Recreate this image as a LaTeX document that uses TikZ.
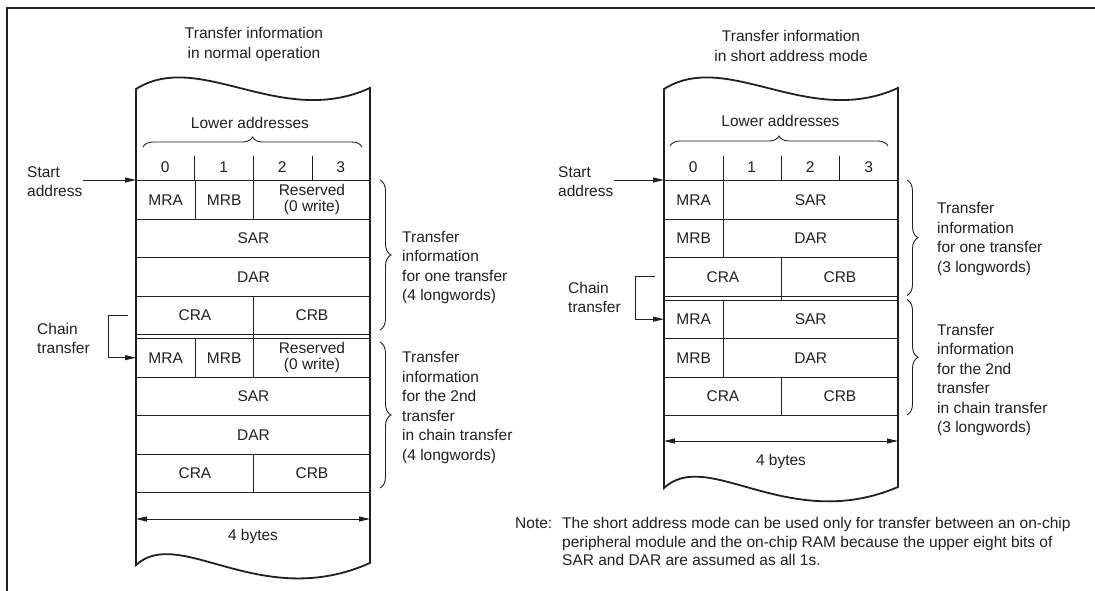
\documentclass[tikz,border=0pt]{standalone}
\usepackage{fontspec}
\setmainfont{Liberation Sans}
\usepackage{tikz}
\usetikzlibrary{arrows.meta,decorations.pathreplacing}
\definecolor{ink}{HTML}{231F20}
\tikzset{
  field/.style={draw=ink, line width=0.9pt, anchor=north west, inner sep=0pt, align=center, text=ink, minimum height=38.5pt},
  quarter/.style={field, minimum width=58.5pt},
  half/.style={field, minimum width=117pt},
  threeq/.style={field, minimum width=175.5pt},
  full/.style={field, minimum width=234pt},
  twoline/.style={font=\fontsize{15.5}{15.5}\selectfont},
  txt/.style={inner sep=0pt, align=left, text=ink},
  rule/.style={draw=ink, line width=0.9pt},
  ptr/.style={-{Triangle[length=11pt,width=5pt]}, line width=0.9pt, draw=ink},
  widtharrow/.style={{Triangle[length=11pt,width=5pt]}-{Triangle[length=11pt,width=5pt]}, line width=0.9pt, draw=ink},
  paper/.style={draw=ink, line width=1.8pt, line join=miter},
  curly/.style={draw=ink, line width=0.9pt, decorate, decoration={brace, amplitude=#1}},
  curly/.default=11pt
}

\begin{document}
\begin{tikzpicture}[x=1pt, y=-1pt, font=\fontsize{15.5}{19.5}\selectfont]
  \useasboundingbox (0,0) rectangle (1095,591);
  \draw[draw=ink, line width=2.5pt] (1096,8) -- (7,8) -- (7,592);

  % normal operation
  \node[txt, align=center] (titleA) at (254,44.5) {Transfer information\\in normal operation};
  \node[txt] (lowA) at (250,123) {Lower addresses};
  \draw[curly=10pt] (143,147) -- (362,147);
  \node[txt] (dA0) at (165.25,167.5) {0};
  \node[txt] (dA1) at (223.75,167.5) {1};
  \node[txt] (dA2) at (282.25,167.5) {2};
  \node[txt] (dA3) at (340.75,167.5) {3};

  \node[quarter] (mraA) at (136,180) {MRA};
  \node[quarter] (mrbA) at (194.5,180) {MRB};
  \node[half, twoline] (resA) at (253,180) {Reserved\\(0 write)};
  \node[full] (sarA) at (136,218.5) {SAR};
  \node[full] (darA) at (136,257) {DAR};
  \node[half] (craA) at (136,295.5) {CRA};
  \node[half] (crbA) at (253,295.5) {CRB};
  \node[quarter] (mraB) at (136,338) {MRA};
  \node[quarter] (mrbB) at (194.5,338) {MRB};
  \node[half, twoline] (resB) at (253,338) {Reserved\\(0 write)};
  \node[full] (sarB) at (136,376.5) {SAR};
  \node[full] (darB) at (136,415) {DAR};
  \node[half] (craB) at (136,453.5) {CRA};
  \node[half] (crbB) at (253,453.5) {CRB};

  \draw[rule] (mrbA.north west) -- ++(0,-24);
  \draw[rule] (resA.north west) -- ++(0,-24);
  \draw[rule] (resA.north) -- ++(0,-24);
  \draw[rule] (craA.south east) -- (mrbB.north east);

  \draw[paper] (136,89) .. controls (200,49) and (280,129) .. (370,88) -- (370,563)
    .. controls (260,612) and (180,525) .. (136,565) -- cycle;

  \coordinate (wlA) at (136,519);
  \coordinate (wrA) at (370,519);
  \draw[widtharrow] (wlA) -- (wrA);
  \node[txt] (bytesA) at (253,536) {4 bytes};

  \node[txt, anchor=west] (startA) at (27,181.5) {Start\\address};
  \draw[ptr] (startA.east |- mraA.north west) -- (mraA.north west);
  \node[txt, anchor=west] (chainA) at (37,338.5) {Chain\\transfer};
  \draw[ptr] ([xshift=-8pt]craA.west) -- ++(-20,0) |- (mraB.west);

  \draw[curly] (380,180) -- (380,330);
  \draw[curly] (380,342) -- (380,488);
  \node[txt, anchor=west] (infoA) at (402,267.5) {Transfer\\information\\for one transfer\\(4 longwords)};
  \node[txt, anchor=west] (infoB) at (402,407.5) {Transfer\\information\\for the 2nd\\transfer\\in chain transfer\\(4 longwords)};

  % short address mode
  \node[txt, align=center] (titleB) at (791,46) {Transfer information\\in short address mode};
  \node[txt] (lowB) at (780.5,121) {Lower addresses};
  \draw[curly=10pt] (670,146) -- (888,146);
  \node[txt] (dB0) at (693.25,167.5) {0};
  \node[txt] (dB1) at (751.75,167.5) {1};
  \node[txt] (dB2) at (810.25,167.5) {2};
  \node[txt] (dB3) at (868.75,167.5) {3};

  \node[quarter] (mraC) at (664,180) {MRA};
  \node[threeq] (sarC) at (722.5,180) {SAR};
  \node[quarter] (mrbC) at (664,218.5) {MRB};
  \node[threeq] (darC) at (722.5,218.5) {DAR};
  \node[half] (craC) at (664,257) {CRA};
  \node[half] (crbC) at (781,257) {CRB};
  \node[quarter] (mraD) at (664,299.5) {MRA};
  \node[threeq] (sarD) at (722.5,299.5) {SAR};
  \node[quarter] (mrbD) at (664,338) {MRB};
  \node[threeq] (darD) at (722.5,338) {DAR};
  \node[half] (craD) at (664,376.5) {CRA};
  \node[half] (crbD) at (781,376.5) {CRB};

  \draw[rule] (mraC.north east) -- ++(0,-24);
  \draw[rule] (781,180) -- ++(0,-24);
  \draw[rule] (839.5,180) -- ++(0,-24);
  \draw[rule] (craC.south east) -- ++(0,4);

  \draw[paper] (664,89) .. controls (728,49) and (808,129) .. (898,88) -- (898,487)
    .. controls (788,534) and (708,447) .. (664,488) -- cycle;

  \coordinate (wlB) at (664,441);
  \coordinate (wrB) at (898,441);
  \draw[widtharrow] (wlB) -- (wrB);
  \node[txt] (bytesB) at (781,461) {4 bytes};

  \node[txt, anchor=west] (startB) at (558,181.5) {Start\\address};
  \draw[ptr] (startB.east |- mraC.north west) -- (mraC.north west);
  \node[txt, anchor=west] (chainB) at (568,297.5) {Chain\\transfer};
  \draw[ptr] ([xshift=-9pt]craC.west) -- ++(-20,0) |- (mraD.west);

  \draw[curly] (907,180) -- (907,295.5);
  \draw[curly] (907,299.5) -- (907,415);
  \node[txt, anchor=west] (infoC) at (937,239) {Transfer\\information\\for one transfer\\(3 longwords)};
  \node[txt, anchor=west] (infoD) at (937,380) {Transfer\\information\\for the 2nd\\transfer\\in chain transfer\\(3 longwords)};

  \node[txt, anchor=west] (noteA) at (515,523) {Note:};
  \node[txt, anchor=west, font=\fontsize{15.5}{18.5}\selectfont] (noteB) at (562,541.5) {The short address mode can be used only for transfer between an on-chip\\peripheral module and the on-chip RAM because the upper eight bits of\\SAR and DAR are assumed as all 1s.};
\end{tikzpicture}
\end{document}
